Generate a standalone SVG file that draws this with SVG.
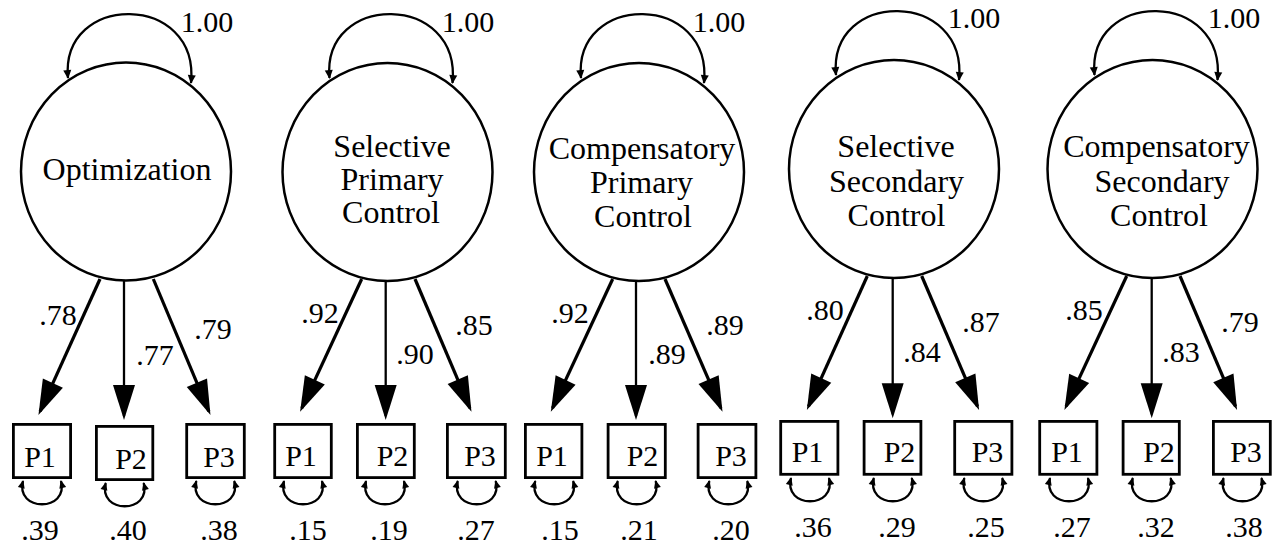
<svg xmlns="http://www.w3.org/2000/svg" width="1279" height="547" viewBox="0 0 1279 547">
<style>
.lat{fill:#fff;stroke:#000;stroke-width:2.5}
.box{fill:#fff;stroke:#000;stroke-width:2.8}
.nm{font-family:"Liberation Serif",serif;font-size:32px;fill:#000;text-anchor:middle}
.num{font-family:"Liberation Serif",serif;font-size:30px;fill:#000;text-anchor:middle}
.pl{font-family:"Liberation Serif",serif;font-size:30px;fill:#000;text-anchor:middle}
.sl{stroke:#000;stroke-width:3.2;fill:none;marker-end:url(#ah)}
.vl{stroke:#000;stroke-width:2.3;fill:none;marker-end:url(#ah)}
.lp{stroke:#000;stroke-width:2.3;fill:none;marker-start:url(#sh);marker-end:url(#sh)}
.rp{stroke:#000;stroke-width:2.3;fill:none;marker-start:url(#sh2);marker-end:url(#sh2)}
</style>
<defs>
<marker id="ah" markerUnits="userSpaceOnUse" markerWidth="36" markerHeight="24" refX="31" refY="11" orient="auto" overflow="visible"><path d="M0,0 L35,11 L0,22 z" fill="#000"/></marker>
<marker id="sh" markerUnits="userSpaceOnUse" markerWidth="10" markerHeight="9" refX="8" refY="4" orient="auto-start-reverse" overflow="visible"><path d="M0,0 L9,4 L0,8 z" fill="#000"/></marker>
<marker id="sh2" markerUnits="userSpaceOnUse" markerWidth="9" markerHeight="8" refX="7" refY="3.5" orient="auto-start-reverse" overflow="visible"><path d="M0,0 L8,3.5 L0,7 z" fill="#000"/></marker>
</defs>

<g id="connectors">
<path class="lp" d="M68,78 C60,-8 200,-8 191,83"/>
<path class="lp" d="M329.5,78 C321.5,-8 461.5,-8 452.5,83"/>
<path class="lp" d="M581,78 C573,-8 713,-8 704,83"/>
<path class="lp" d="M836,75 C828,-11 968,-11 959,80"/>
<path class="lp" d="M1094.5,75 C1086.5,-11 1226.5,-11 1217.5,80"/>
<line class="sl" x1="100" y1="279" x2="40.1" y2="411.4"/>
<line class="vl" x1="124" y1="281" x2="124" y2="416"/>
<line class="sl" x1="153.3" y1="279" x2="208.9" y2="411.4"/>
<line class="sl" x1="361.7" y1="279" x2="301.8" y2="408.1"/>
<line class="vl" x1="385.7" y1="281" x2="385.7" y2="416"/>
<line class="sl" x1="415" y1="279" x2="469.9" y2="408.1"/>
<line class="sl" x1="612.7" y1="279" x2="552.5" y2="408.1"/>
<line class="vl" x1="636" y1="281" x2="636" y2="416"/>
<line class="sl" x1="665" y1="279" x2="720.9" y2="408.1"/>
<line class="sl" x1="867.3" y1="276" x2="808.5" y2="406.4"/>
<line class="vl" x1="892.7" y1="278" x2="892.7" y2="414.3"/>
<line class="sl" x1="921.7" y1="276" x2="977.5" y2="406.4"/>
<line class="sl" x1="1126.7" y1="276" x2="1066.1" y2="406.4"/>
<line class="vl" x1="1151.7" y1="278" x2="1151.7" y2="414.3"/>
<line class="sl" x1="1180" y1="276" x2="1235.5" y2="406.4"/>
<path class="rp" d="M23,481 C15,512 69,512 61,481"/>
<path class="rp" d="M105.7,483 C97.7,514 151.7,514 143.7,483"/>
<path class="rp" d="M196.3,481 C188.3,512 242.3,512 234.3,481"/>
<path class="rp" d="M284,481 C276,512 330,512 322,481"/>
<path class="rp" d="M366,481 C358,512 412,512 404,481"/>
<path class="rp" d="M457.7,481 C449.7,512 503.7,512 495.7,481"/>
<path class="rp" d="M535.2,481 C527.2,512 581.2,512 573.2,481"/>
<path class="rp" d="M617.7,481 C609.7,512 663.7,512 655.7,481"/>
<path class="rp" d="M709.3,481 C701.3,512 755.3,512 747.3,481"/>
<path class="rp" d="M791,478 C783,509 837,509 829,478"/>
<path class="rp" d="M873.8,478 C865.8,509 919.8,509 911.8,478"/>
<path class="rp" d="M964.3,478 C956.3,509 1010.3,509 1002.3,478"/>
<path class="rp" d="M1050,478 C1042,509 1096,509 1088,478"/>
<path class="rp" d="M1132.7,478 C1124.7,509 1178.7,509 1170.7,478"/>
<path class="rp" d="M1223.5,478 C1215.5,509 1269.5,509 1261.5,478"/>
</g>

<g id="labels">
<text class="num" x="207" y="32">1.00</text>
<text class="num" x="468" y="32">1.00</text>
<text class="num" x="719" y="32">1.00</text>
<text class="num" x="974" y="28">1.00</text>
<text class="num" x="1234" y="28">1.00</text>
<text class="num" x="58" y="325">.78</text>
<text class="num" x="155" y="365">.77</text>
<text class="num" x="213" y="339">.79</text>
<text class="num" x="320" y="323">.92</text>
<text class="num" x="415" y="364">.90</text>
<text class="num" x="474" y="335">.85</text>
<text class="num" x="570" y="323">.92</text>
<text class="num" x="667" y="364">.89</text>
<text class="num" x="725" y="335">.89</text>
<text class="num" x="825" y="320">.80</text>
<text class="num" x="922" y="361.7">.84</text>
<text class="num" x="981" y="332">.87</text>
<text class="num" x="1084" y="320">.85</text>
<text class="num" x="1181" y="361.7">.83</text>
<text class="num" x="1240" y="332">.79</text>
<text class="num" x="40" y="540">.39</text>
<text class="num" x="128" y="540">.40</text>
<text class="num" x="219" y="540">.38</text>
<text class="num" x="308" y="540">.15</text>
<text class="num" x="389" y="540">.19</text>
<text class="num" x="476" y="540">.27</text>
<text class="num" x="560" y="540">.15</text>
<text class="num" x="639" y="540">.21</text>
<text class="num" x="731" y="540">.20</text>
<text class="num" x="813" y="537">.36</text>
<text class="num" x="897" y="537">.29</text>
<text class="num" x="986" y="537">.25</text>
<text class="num" x="1072" y="537">.27</text>
<text class="num" x="1156" y="537">.32</text>
<text class="num" x="1244" y="537">.38</text>
</g>

<g id="optimization">
<ellipse class="lat" cx="126" cy="171.5" rx="105" ry="109"/>
<text class="nm" x="127" y="180">Optimization</text>
</g>
<g id="selective-primary-control">
<ellipse class="lat" cx="387.5" cy="172" rx="105" ry="109"/>
<text class="nm" x="392" y="156.5">Selective</text>
<text class="nm" x="392" y="189.5">Primary</text>
<text class="nm" x="391" y="223">Control</text>
</g>
<g id="compensatory-primary-control">
<ellipse class="lat" cx="639" cy="172" rx="105" ry="109"/>
<text class="nm" x="642" y="159">Compensatory</text>
<text class="nm" x="641.5" y="192.5">Primary</text>
<text class="nm" x="643" y="226.5">Control</text>
</g>
<g id="selective-secondary-control">
<ellipse class="lat" cx="894" cy="169" rx="105" ry="109"/>
<text class="nm" x="896" y="156.5">Selective</text>
<text class="nm" x="896.5" y="191.5">Secondary</text>
<text class="nm" x="896.5" y="226">Control</text>
</g>
<g id="compensatory-secondary-control">
<ellipse class="lat" cx="1152.5" cy="169" rx="105" ry="109"/>
<text class="nm" x="1156.5" y="156.5">Compensatory</text>
<text class="nm" x="1162" y="191.5">Secondary</text>
<text class="nm" x="1159" y="226">Control</text>
</g>

<g id="opt-p1"><rect class="box" x="13.4" y="424.4" width="57.2" height="53.2"/><text class="pl" x="40" y="467">P1</text></g>
<g id="opt-p2"><rect class="box" x="96.4" y="426.4" width="56.4" height="53.2"/><text class="pl" x="131" y="468.5">P2</text></g>
<g id="opt-p3"><rect class="box" x="186.7" y="424.4" width="57.6" height="53.2"/><text class="pl" x="219" y="467">P3</text></g>

<g id="spc-p1"><rect class="box" x="274.7" y="424.4" width="56.6" height="53.2"/><text class="pl" x="301" y="466">P1</text></g>
<g id="spc-p2"><rect class="box" x="357.4" y="424.4" width="56.9" height="53.2"/><text class="pl" x="392.5" y="466">P2</text></g>
<g id="spc-p3"><rect class="box" x="447.4" y="424.4" width="57.9" height="53.2"/><text class="pl" x="480" y="466">P3</text></g>

<g id="cpc-p1"><rect class="box" x="525.4" y="424.4" width="56.5" height="53.2"/><text class="pl" x="552" y="466">P1</text></g>
<g id="cpc-p2"><rect class="box" x="608.1" y="424.4" width="57.2" height="53.2"/><text class="pl" x="642.5" y="466">P2</text></g>
<g id="cpc-p3"><rect class="box" x="698.1" y="424.4" width="57.8" height="53.2"/><text class="pl" x="731" y="466">P3</text></g>

<g id="ssc-p1"><rect class="box" x="780.7" y="421.4" width="57.2" height="52.9"/><text class="pl" x="807.5" y="462">P1</text></g>
<g id="ssc-p2"><rect class="box" x="864.1" y="421.4" width="56.8" height="52.9"/><text class="pl" x="899.5" y="462">P2</text></g>
<g id="ssc-p3"><rect class="box" x="954.7" y="421.4" width="57.2" height="52.9"/><text class="pl" x="987.5" y="462">P3</text></g>

<g id="csc-p1"><rect class="box" x="1039.7" y="421.4" width="57.2" height="52.9"/><text class="pl" x="1067" y="462">P1</text></g>
<g id="csc-p2"><rect class="box" x="1123.1" y="421.4" width="56.2" height="52.9"/><text class="pl" x="1159" y="462">P2</text></g>
<g id="csc-p3"><rect class="box" x="1213.4" y="421.4" width="56.9" height="52.9"/><text class="pl" x="1246" y="462">P3</text></g>
</svg>
